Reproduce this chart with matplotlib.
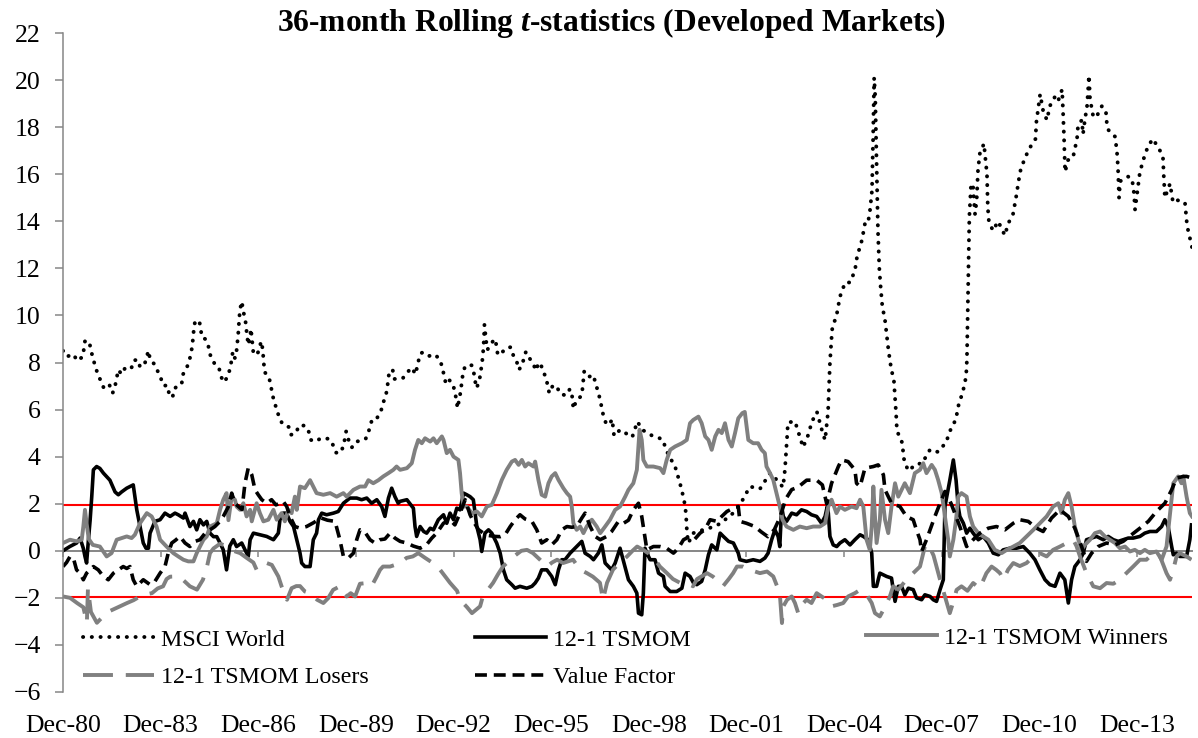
"""36-month rolling t-statistics, developed markets."""
import matplotlib
matplotlib.use('Agg')
import matplotlib.pyplot as plt
import numpy as np

# months since Dec-80, t-statistic
msci_world = [
    (0, 8.5), (1.4, 8.25), (3.8, 8.35), (5.3, 8.07), (7.3, 8.25), (8.1, 8.9), (9.7, 8.9), (10.2, 8.56),
    (11.8, 7.87), (12.7, 7.55), (13.9, 7.22), (15.1, 6.9), (17.1, 7.05), (18.3, 6.7), (19.2, 7.0),
    (20.4, 7.69), (21.6, 7.5), (23.2, 7.83), (25.3, 7.79), (26.2, 8.1), (27.8, 8.1), (28.4, 7.8),
    (30.2, 7.97), (31.5, 8.5), (32.1, 8.14), (33.6, 7.94), (34.8, 7.66), (36.0, 7.36), (37.0, 7.02),
    (38.5, 7.02), (39.1, 6.68), (40.4, 6.51), (40.9, 6.84), (42.5, 7.08), (43.8, 7.12), (44.1, 7.47),
    (45.4, 7.71), (46.5, 8.04), (47.2, 8.39), (47.7, 8.73), (48.1, 9.25), (48.7, 9.77), (50.3, 9.74),
    (50.8, 9.41), (51.2, 9.07), (52.4, 9.0), (53.6, 8.72), (53.9, 8.39), (55.1, 8.18), (56.0, 7.9),
    (57.6, 7.74), (58.1, 7.43), (59.4, 7.16), (61.0, 7.46), (61.6, 7.78), (62.2, 8.1), (62.6, 8.46),
    (63.4, 8.18), (64.0, 8.5), (64.6, 9.2), (65.0, 9.9), (65.3, 10.26), (65.9, 10.59), (66.8, 10.0),
    (67.4, 9.67), (67.7, 9.31), (68.3, 8.75), (69.0, 9.1), (69.3, 9.43), (69.9, 8.75), (70.2, 8.4),
    (71.4, 8.32), (72.4, 8.54), (73.0, 8.9), (73.6, 8.6), (74.3, 7.6), (76.0, 7.36), (76.6, 7.02),
    (77.2, 6.68), (77.8, 6.34), (78.8, 6.03), (79.6, 5.7), (80.9, 5.39), (83.4, 5.25), (84.1, 4.93),
    (85.9, 5.0), (87.0, 5.32), (89.2, 5.32), (90.7, 5.04), (91.4, 4.71), (93.2, 4.64), (95.0, 4.78),
    (98.1, 4.76), (99.7, 4.47), (100.7, 4.17), (102.1, 4.15), (103.4, 4.43), (104.4, 5.07), (105.2, 4.74),
    (106.5, 4.39), (108.0, 4.64), (109.8, 4.67), (111.6, 4.76), (112.6, 5.0), (113.2, 5.32), (114.2, 5.63),
    (115.9, 5.66), (117.3, 5.96), (118.1, 6.3), (119.1, 6.62), (119.6, 6.98), (120.0, 7.3), (120.3, 7.66),
    (121.6, 7.66), (122.2, 7.3), (125.3, 7.33), (126.7, 7.55), (128.6, 7.78), (130.0, 7.5), (131.0, 8.04),
    (131.9, 8.39), (132.9, 8.44), (135.1, 8.28), (137.2, 8.34), (139.0, 8.11), (139.9, 7.78), (140.5, 7.44),
    (141.2, 7.09), (142.4, 7.26), (143.9, 7.05), (144.5, 6.7), (145.2, 6.38), (145.4, 6.06), (146.1, 6.41),
    (146.6, 6.76), (147.0, 7.12), (147.4, 7.47), (148.2, 7.83), (149.4, 7.9), (150.7, 7.88), (151.5, 7.55),
    (152.0, 7.19), (152.5, 6.91), (153.5, 7.22), (154.0, 7.57), (154.4, 7.9), (154.8, 8.25), (155.0, 8.61),
    (155.2, 8.96), (155.4, 9.6), (156.0, 8.93), (156.5, 8.54), (157.7, 8.79), (159.3, 9.0), (159.9, 8.68),
    (160.3, 8.32), (161.8, 8.42), (163.6, 8.63), (165.1, 8.65), (166.0, 8.32), (167.3, 8.04), (168.1, 7.69),
    (169.5, 7.93), (170.0, 8.28), (170.7, 8.45), (172.2, 8.15), (173.4, 7.94), (174.4, 7.66), (175.3, 7.97),
    (176.1, 7.97), (176.9, 7.64), (178.1, 7.37), (178.7, 7.02), (179.3, 6.7), (180.6, 7.02), (182.0, 7.0),
    (183.3, 6.67), (185.4, 6.6), (186.9, 6.87), (187.6, 6.7), (187.9, 6.37), (188.2, 6.03), (189.2, 6.37),
    (191.3, 6.6), (191.6, 6.95), (191.9, 7.29), (192.2, 7.64), (193.1, 7.52), (194.1, 7.4), (195.5, 7.47),
    (196.4, 7.12), (197.2, 6.79), (198.0, 6.45), (199.2, 5.77), (200.2, 5.42), (201.4, 5.35), (202.5, 5.59),
    (203.2, 4.88), (205.4, 5.14), (209.9, 4.83), (211.8, 5.49), (213.6, 5.14), (217.1, 4.9), (221.0, 4.74),
    (223.2, 4.08), (225.7, 3.58), (227.5, 2.87), (229.0, 2.17), (229.7, 1.6), (230.1, 0.75), (230.6, 0.33),
    (232.4, 0.75), (234.9, 0.85), (239.3, 1.0), (242.3, 1.15), (247.1, 1.6), (249.6, 1.95), (253.3, 2.73),
    (257.0, 2.63), (260.7, 3.3), (262.5, 3.1), (265.5, 2.7), (266.2, 3.44), (267.0, 4.84), (267.3, 5.45),
    (269.9, 5.5), (272.9, 4.4), (274.7, 4.9), (276.2, 5.5), (278.0, 5.9), (279.9, 5.1), (281.0, 4.7),
    (282.1, 5.9), (282.8, 8.0), (283.6, 9.4), (285.4, 10.1), (286.5, 10.8), (288.4, 11.4), (290.2, 11.4),
    (292.0, 11.9), (292.8, 12.5), (294.6, 13.2), (295.7, 13.9), (296.8, 13.9), (297.6, 14.5), (298.3, 15.3),
    (298.7, 17.5), (299.1, 20.1), (299.5, 19.3), (300.0, 16.5), (300.5, 13.6), (301.0, 12.0), (301.5, 11.2),
    (302.1, 10.4), (303.1, 9.8), (303.7, 9.2), (304.4, 8.5), (305.3, 7.8), (306.4, 7.2), (306.8, 6.5),
    (307.2, 5.8), (307.5, 5.1), (309.4, 4.6), (310.1, 3.9), (311.6, 3.4), (314.9, 3.7), (316.7, 3.7),
    (319.7, 4.3), (322.6, 4.2), (325.6, 4.6), (327.1, 5.1), (329.3, 5.6), (330.0, 6.1), (331.9, 6.8),
    (333.0, 7.4), (333.3, 8.1), (333.6, 10.1), (333.9, 12.2), (334.2, 14.2), (334.8, 15.5), (335.5, 15.6),
    (335.9, 14.9), (336.3, 14.3), (336.9, 14.9), (337.4, 16.2), (338.1, 16.9), (339.6, 17.3), (340.0, 16.8),
    (340.7, 16.0), (341.0, 14.6), (341.4, 14.0), (342.9, 13.6), (344.8, 14.0), (347.3, 13.4), (348.5, 13.9),
    (350.3, 14.3), (351.4, 15.0), (352.9, 16.1), (354.7, 16.7), (356.9, 17.2), (358.6, 17.5), (358.9, 18.2),
    (359.5, 18.7), (360.3, 19.4), (361.4, 18.7), (362.8, 18.3), (363.9, 18.9), (365.8, 19.3), (366.9, 19.1),
    (368.4, 19.6), (368.7, 18.8), (369.1, 17.6), (369.5, 16.1), (370.6, 16.6), (372.4, 16.7), (373.9, 17.5),
    (374.3, 18.1), (375.7, 18.3), (376.1, 17.7), (376.8, 18.3), (377.6, 18.9), (378.0, 19.6), (378.3, 20.2),
    (378.7, 19.2), (379.8, 18.5), (380.9, 18.4), (383.1, 18.9), (384.6, 18.6), (385.0, 18.0), (385.3, 17.9),
    (387.9, 17.6), (388.6, 17.0), (389.0, 16.3), (389.4, 15.0), (389.8, 15.7), (392.7, 15.9), (394.2, 15.8),
    (394.9, 15.2), (395.3, 14.5), (396.4, 15.5), (397.1, 16.1), (398.6, 16.7), (400.1, 17.2), (401.9, 17.5),
    (404.5, 17.0), (405.6, 16.7), (405.9, 15.9), (406.3, 15.0), (408.2, 15.6), (409.3, 14.8), (410.8, 14.9),
    (413.7, 14.8), (414.5, 13.8), (416.3, 12.9),
]

tsmom = [
    (0, 0.0), (2.5, 0.18), (5, 0.33), (6.3, 0.54), (7.5, 0.1), (8.1, -0.24), (8.7, -0.52), (9.4, 0.5),
    (10, 1.3), (10.6, 2.3), (11.2, 3.44), (12.4, 3.58), (13.6, 3.5), (14.9, 3.3), (17.3, 3.0), (19.2, 2.5),
    (20.4, 2.38), (21.6, 2.5), (23.5, 2.66), (25.9, 2.8), (26.5, 2.3), (27.2, 1.74), (28.4, 1.03),
    (29.6, 0.33), (30.6, 0.11), (31.5, 0.11), (32.1, 0.75), (33.9, 1.25), (35.8, 1.32), (37.6, 1.6),
    (39.5, 1.46), (41.3, 1.6), (42.5, 1.53), (44.4, 1.39), (45, 1.6), (46.8, 1.03), (48.1, 1.25),
    (49.3, 0.89), (50.5, 1.32), (51.8, 1.1), (53, 1.25), (54.2, 0.75), (55.5, 0.6), (56.7, 0.6),
    (57.9, 0.33), (59.1, 0.04), (60.3, -0.81), (61.5, 0.2), (62.8, 0.47), (64, 0.18), (65.9, 0.33),
    (67.7, -0.1), (68.3, -0.24), (69, 0.47), (70.2, 0.75), (72.6, 0.68), (75.1, 0.61), (77.6, 0.47),
    (79.4, 0.75), (80, 1.32), (81.2, 1.6), (82.4, 1.6), (83.7, 1.25), (85, 1.03), (86.2, 0.47),
    (87.4, -0.1), (88, -0.52), (89.2, -0.67), (91.1, -0.67), (91.7, -0.1), (92.3, 0.47), (93.5, 0.75),
    (94.2, 1.32), (95.4, 1.6), (97.2, 1.53), (99.7, 1.6), (101.5, 1.67), (103.4, 2.02), (105.8, 2.24),
    (108.3, 2.24), (110.1, 2.17), (112, 2.24), (113.8, 2.02), (115.7, 2.17), (117.5, 1.88), (118.7, 1.46),
    (120, 2.24), (121.2, 2.66), (122.4, 2.3), (123.6, 2.02), (124.3, 2.1), (126.8, 2.17), (129.2, 1.81),
    (129.8, 1.03), (130.4, 0.61), (131.7, 1.03), (133, 0.82), (134.1, 0.75), (135.4, 0.96), (136.6, 0.89),
    (138.4, 1.32), (140.3, 1.53), (141.5, 1.17), (142.7, 1.6), (144, 1.32), (145.2, 1.81), (146.4, 1.74),
    (147.7, 2.45), (148.9, 2.38), (150.1, 2.3), (151.3, 2.17), (152.6, 1.03), (153.8, 0.47), (154.4, -0.03),
    (155.6, 0.75), (156.9, 0.89), (158.1, 0.75), (159.9, 0.33), (161.2, -0.1), (162.4, -0.81),
    (163.6, -1.23), (165.5, -1.44), (166.7, -1.59), (168.5, -1.51), (171, -1.59), (172.9, -1.51),
    (174.1, -1.37), (175.3, -1.16), (176.5, -0.81), (178.4, -0.81), (180.2, -1.09), (181.5, -1.44),
    (182.7, -0.81), (183.9, -0.38), (185.1, -0.38), (187, -0.1), (188.8, 0.11), (191.3, 0.4),
    (192.5, -0.1), (194.4, -0.24), (195.6, -0.38), (197.4, -0.1), (198.7, 0.25), (199.9, -0.52),
    (202.3, -0.81), (203.6, -0.52), (205.4, 0.11), (206.7, -0.45), (208.5, -1.23), (210.3, -1.51),
    (211.6, -1.8), (212.2, -2.65), (213.4, -2.72), (214, -1.8), (214.6, 0.11), (215.3, -0.1),
    (216.5, -0.38), (218.3, -0.38), (219.6, -0.95), (221.4, -1.09), (222, -1.51), (223.9, -1.73),
    (226.3, -1.73), (228.2, -1.59), (229.4, -0.95), (231.2, -1.09), (232.5, -1.37), (233.7, -1.44),
    (235.5, -1.3), (236.8, -0.81), (238, -0.17), (239.2, 0.25), (241.1, 0.04), (242.3, 0.75),
    (243.5, 0.61), (245.4, 0.4), (247.2, 0.33), (249, -0.1), (249.6, -0.38), (252, -0.45),
    (254.5, -0.38), (257, -0.45), (258.8, -0.31), (260, -0.1), (261.3, 0.47), (262.5, 0.89),
    (263.7, 0.61), (264.3, 0.18), (265, 1.88), (265.6, 1.46), (266.8, 1.25), (268.7, 1.6), (270.5, 1.53),
    (272.3, 1.74), (274.2, 1.67), (276, 1.53), (277.9, 1.46), (279.7, 1.17), (281, 1.46), (281.8, 1.88),
    (282.2, 1.6), (282.8, 0.61), (284, 0.25), (285.3, 0.18), (286.5, 0.33), (288.3, 0.47), (290.2, 0.25),
    (292, 0.47), (293.9, 0.68), (295.1, 0.61), (296.9, 0.47), (298.2, -0.1), (298.8, -1.51), (300, -1.51),
    (301.2, -0.95), (303.7, -1.09), (305.5, -1.16), (306.8, -2.15), (308, -1.51), (309.2, -1.51),
    (310.4, -1.87), (311.7, -1.59), (313.5, -1.65), (314.7, -2.0), (316.6, -2.08), (317.8, -1.87),
    (319.7, -1.94), (320.9, -2.08), (322.1, -2.15), (323.4, -1.65), (324.6, -1.23), (325.2, 1.88),
    (327, 3.0), (328.3, 3.86), (329.3, 3.0), (330.1, 1.88), (330.7, 1.46), (332, 1.17), (333.2, 0.75),
    (334.4, 0.96), (335.6, 0.75), (337.5, 0.47), (339.3, 0.61), (341.2, 0.33), (343, -0.1), (344.9, -0.17),
    (346.7, 0.04), (349.2, 0.11), (351.6, 0.11), (354.1, 0.18), (356.5, -0.1), (358.4, -0.38),
    (360.2, -0.81), (362.1, -1.23), (363.9, -1.44), (365.8, -1.51), (367.6, -0.95), (369.4, -1.23),
    (370.7, -2.22), (371.9, -1.23), (373.1, -0.67), (375, -0.38), (376.2, -0.1), (377.4, 0.47),
    (379.3, 0.54), (381.1, 0.61), (383.6, 0.47), (385.4, 0.61), (387.3, 0.47), (389.1, 0.4), (391, 0.47),
    (392.8, 0.54), (394.6, 0.54), (397.1, 0.61), (398.9, 0.75), (400.8, 0.82), (403.2, 0.82),
    (405.1, 1.03), (406.3, 1.32), (407.5, 1.03), (408.8, 0.18), (409.4, -0.17), (410.6, -0.1),
    (411.8, -0.24), (414.3, -0.24), (415.5, 0.47), (416.1, 1.1),
]

tsmom_winners = [
    (0, 0.33), (2.6, 0.47), (5, 0.4), (6.9, 0.47), (7.5, 1.03), (8.1, 1.74), (8.7, 1.17), (9.5, 0.5),
    (11, 0.25), (13.6, 0.18), (16.1, -0.24), (17.9, -0.1), (19.8, 0.47), (21.6, 0.54), (23.5, 0.61),
    (25.3, 0.54), (26.5, 0.68), (28.4, 1.17), (30.9, 1.6), (32.7, 1.46), (34.5, 1.03), (35.8, 0.47),
    (38.2, 0.18), (40.7, -0.1), (42.5, -0.24), (44.4, -0.38), (46.2, -0.45), (48.1, -0.45), (49.3, -0.1),
    (50.5, 0.18), (51.8, 0.47), (53, 0.61), (54.2, 1.03), (56.7, 1.17), (57.9, 1.74), (59.1, 2.17),
    (60.3, 2.45), (61, 1.3), (62.2, 2.3), (63.4, 2.17), (64, 1.88), (65.3, 1.74), (66.5, 2.02),
    (67.7, 1.46), (69, 1.74), (69.6, 1.25), (71.4, 2.02), (72.6, 1.6), (73.9, 1.25), (75.7, 1.32),
    (77.6, 1.74), (78.8, 1.32), (80.6, 1.6), (81.8, 1.25), (83.1, 1.74), (84.3, 1.6), (85.5, 2.3),
    (86.2, 1.74), (87.4, 2.73), (89.2, 2.66), (91.1, 3.0), (92.3, 2.73), (93.5, 2.45), (96, 2.38),
    (98.5, 2.45), (100.9, 2.3), (103.4, 2.45), (104.6, 2.3), (107.1, 2.59), (109.5, 2.73), (111.4, 2.73),
    (112.6, 3.0), (114.4, 2.87), (116.3, 3.0), (118.1, 3.16), (120, 3.3), (121.8, 3.44), (123, 3.58),
    (124.3, 3.44), (126.8, 3.51), (128.6, 3.72), (129.8, 4.29), (131, 4.71), (132.3, 4.57), (133.5, 4.78),
    (135.4, 4.64), (136.6, 4.78), (137.8, 4.57), (139.7, 4.86), (140.3, 4.71), (141.5, 4.15), (142.7, 4.29),
    (144, 4.0), (145.8, 3.86), (146.4, 3.3), (147, 2.45), (147.7, 1.88), (148.9, 1.88), (150.7, 1.6),
    (152.6, 1.67), (154.4, 1.46), (156.3, 1.88), (158.1, 1.95), (160, 2.45), (161.8, 3.01), (163.6, 3.44),
    (165.5, 3.79), (166.7, 3.86), (168, 3.65), (169.2, 3.86), (170.4, 3.58), (171.6, 3.72), (173.5, 3.58),
    (174.1, 3.79), (175.3, 3.01), (176.5, 2.38), (177.8, 2.3), (179, 2.87), (180.2, 3.16), (181.5, 3.3),
    (182.7, 3.01), (184.5, 2.66), (185.8, 2.45), (187, 2.3), (187.6, 1.88), (188.2, 1.17), (189.4, 0.89),
    (190.7, 1.03), (191.9, 0.75), (193.1, 1.03), (195, 1.32), (196.8, 1.03), (198.1, 0.75), (199.9, 1.03),
    (201.7, 1.32), (203.6, 1.74), (205.4, 1.88), (207.3, 2.3), (208.5, 2.59), (210.3, 2.87), (211.6, 3.44),
    (212.6, 5.14), (213.4, 4.71), (214, 3.86), (215.3, 3.58), (217.7, 3.58), (220.2, 3.51), (221.4, 3.3),
    (222.6, 3.86), (223.9, 4.29), (225.7, 4.43), (228.2, 4.57), (230, 4.71), (231.2, 5.42), (232.4, 5.56),
    (234.3, 5.7), (235.5, 5.42), (236.8, 4.86), (238, 4.71), (239.2, 4.29), (240.5, 4.86), (241.7, 5.14),
    (242.9, 5.0), (244.1, 5.42), (245.4, 4.71), (246.6, 4.43), (247.8, 5.0), (249, 5.63), (250.5, 5.85),
    (251.4, 5.9), (252.7, 4.71), (254.5, 4.57), (256.3, 4.57), (257.6, 4.29), (258.8, 4.15), (259.4, 3.58),
    (260.7, 3.3), (261.9, 3.01), (263.1, 2.45), (264.3, 1.88), (265.3, 1.32), (266.8, 1.03), (269.3, 0.89),
    (271.7, 1.03), (274.2, 0.96), (276.6, 1.03), (279.1, 1.03), (281, 1.17), (282.2, 1.88), (283.4, 2.17),
    (285.2, 1.6), (286.5, 1.88), (288.3, 1.74), (290.8, 1.88), (292.6, 1.81), (293.9, 2.17), (295.1, 1.88),
    (296.3, 0.47), (297.5, 0.04), (298.2, 1.03), (298.8, 2.73), (299.4, 1.46), (300, 0.33), (301.2, 1.32),
    (301.8, 2.59), (303.1, 1.32), (304.3, 0.75), (305.5, 1.88), (306.8, 2.87), (308, 2.3), (309.2, 2.59),
    (310.4, 2.87), (312.3, 2.45), (314.1, 3.3), (316, 3.44), (317.2, 3.72), (318.4, 3.3), (320.3, 3.65),
    (321.5, 3.44), (322.7, 3.01), (324, 2.45), (325.2, 1.46), (326.4, 0.47), (327, -0.24), (328.3, 0.47),
    (329.3, 1.32), (330.1, 2.3), (331.3, 2.45), (333.2, 2.3), (334.4, 1.46), (335.6, 1.03), (337.5, 0.75),
    (339.3, 0.61), (341.2, 0.47), (343.6, 0.04), (346.1, -0.1), (348, 0.04), (350.4, 0.18), (352.8, 0.33),
    (355.3, 0.61), (357.8, 0.89), (360.2, 1.17), (362.7, 1.46), (365.1, 1.88), (367, 2.02), (368.2, 1.6),
    (369.4, 2.17), (370.7, 2.45), (371.9, 1.88), (373.1, 1.03), (374.4, 0.47), (375.6, 0.04), (376.8, 0.25),
    (378.7, 0.47), (380.5, 0.75), (382.4, 0.82), (384.2, 0.61), (386, 0.47), (387.9, 0.33), (389.7, 0.11),
    (391.6, 0.18), (393.4, -0.03), (395.2, 0.04), (397.1, -0.1), (398.9, 0.04), (400.8, -0.1),
    (403.2, -0.03), (405.1, -0.38), (406.9, 0.18), (408.2, 1.6), (409.4, 2.87), (411.2, 3.16),
    (412.4, 2.87), (413.1, 3.16), (414.3, 2.3), (415.5, 1.6), (416.3, 1.46),
]

tsmom_losers = [
    (0, -1.94), (2.6, -2.0), (5.2, -2.22), (7.5, -2.4), (8.8, -3.06), (9.2, -1.6), (10.3, -2.6),
    (12.5, -3.06), (14.7, -2.8), (16.5, -2.6), (18.4, -2.5), (21, -2.36), (23.6, -2.22), (26, -2.1),
    (28.4, -1.94), (30.5, -1.85), (32.8, -1.8), (34.9, -1.6), (36.9, -1.51), (38.2, -1.2), (39.5, -1.1),
    (41.9, -1.09), (44.2, -1.23), (46.8, -1.51), (49.4, -1.65), (51.6, -1.23), (53.1, -0.67), (54.2, -0.1),
    (55.5, 0.1), (57.9, 0.3), (60.3, 0.2), (62.8, 0.0), (65.3, -0.1), (67.7, -0.3), (70.2, -0.5),
    (71.4, -0.81), (73.3, -0.7), (75.1, -0.52), (77, -0.6), (79.4, -1.09), (80.6, -1.51), (82.6, -2.08),
    (84.3, -1.59), (86, -1.5), (87.4, -1.5), (89.2, -1.73), (91.1, -1.8), (93.7, -2.08), (96, -2.22),
    (97.8, -2.01), (99.6, -1.66), (102.1, -1.51), (103.4, -1.8), (104.6, -1.94), (106.1, -1.8),
    (107.7, -1.94), (109.5, -1.4), (112, -1.37), (113.8, -1.5), (115.7, -1.09), (116.9, -0.81),
    (118, -0.67), (120.6, -0.67), (122.4, -0.6), (124.3, -0.52), (126.7, -0.3), (129, -0.24), (131, -0.1),
    (133.5, -0.3), (136.4, -0.52), (139, -0.8), (141, -1.1), (142.7, -1.36), (145.3, -1.7), (146.4, -2.08),
    (149, -2.4), (150.8, -2.65), (153.8, -2.36), (154.9, -1.9), (156.7, -1.65), (158.6, -1.36),
    (160.4, -1.0), (162.2, -0.67), (164.8, -0.4), (166.7, -0.2), (169, 0.0), (171.1, 0.04), (173.3, -0.1),
    (175.9, -0.38), (178.5, -0.67), (180.3, -0.5), (182.2, -0.38), (184.4, -0.52), (186.3, -0.45),
    (188.1, -0.38), (190.6, -0.8), (193.2, -0.95), (195.4, -1.1), (198, -1.36), (199.1, -2.08),
    (200.6, -1.36), (202.8, -0.8), (205.4, -0.5), (208, -0.24), (210, 0.0), (211.7, 0.18), (213.9, 0.04),
    (217.6, -0.24), (220.1, -0.67), (222.7, -0.95), (224.9, -1.2), (227.5, -1.36), (230.1, -1.36),
    (232.3, -1.51), (233.8, -1.2), (237.5, -0.95), (239.7, -1.1), (242.3, -1.36), (243.4, -1.5),
    (245.5, -1.2), (247.1, -0.95), (248.5, -0.67), (250.7, -0.67), (253.3, -0.81), (257, -0.95),
    (259.6, -0.88), (261.9, -1.09), (264.3, -1.8), (265.1, -3.07), (265.6, -2.36), (267, -2.08),
    (268.7, -1.94), (269.9, -2.22), (271.1, -2.65), (272.3, -2.3), (274.2, -2.08), (276, -2.22),
    (277.9, -1.8), (279.7, -1.94), (281.6, -2.08), (283.4, -2.36), (285.5, -2.3), (287.7, -2.22),
    (289.5, -1.94), (292, -1.8), (293.9, -1.66), (296, -1.8), (298.2, -2.22), (299.4, -2.65),
    (301.2, -2.79), (303, -2.4), (304.9, -1.94), (306.1, -1.51), (308, -1.65), (311, -1.23),
    (313.5, -0.95), (316, -0.67), (317.8, 0.18), (319, 0.3), (321, -0.2), (323.4, -1.23), (325.2, -1.94),
    (327, -2.65), (328.2, -2.2), (329.5, -1.66), (331.3, -1.51), (333.5, -1.7), (335.6, -1.37),
    (338, -1.6), (340.5, -0.95), (342.4, -0.67), (344, -0.8), (345.5, -0.95), (346.7, -1.23),
    (348.5, -0.8), (350.4, -0.52), (352.8, -0.65), (355.3, -0.52), (357.8, -0.24), (360.2, -0.1),
    (362.7, -0.24), (365.1, 0.04), (367.6, 0.18), (370.1, 0.33), (372.5, 0.47), (373.7, 0.2),
    (375, -0.24), (377.4, -0.95), (379.9, -1.51), (382.4, -1.59), (384.8, -1.37), (387.3, -1.4),
    (389.7, -1.23), (392.1, -0.95), (394.6, -0.67), (397.1, -0.38), (399.5, -0.38), (402, -0.1),
    (404.5, -0.24), (406.9, -0.95), (408.2, -1.23), (409.4, -0.8), (410.6, -0.24), (411.8, -0.1),
    (414.3, -0.24), (416.1, -0.38),
]

value_factor = [
    (0, -0.67), (1.3, -0.5), (2.6, -0.24), (3.8, -0.3), (5, -0.81), (6.3, -0.95), (7.5, -1.23),
    (8.7, -0.95), (11.2, -0.67), (13, -0.81), (14.9, -1.09), (16.7, -1.23), (18.6, -0.95), (20.4, -0.81),
    (22.2, -0.67), (23.5, -0.75), (24.7, -0.67), (25.9, -1.23), (27.2, -1.51), (29.6, -1.23),
    (32.1, -1.44), (33.9, -1.3), (35.8, -0.95), (37.6, -0.67), (38.8, -0.1), (40.1, 0.33), (41.5, 0.45),
    (43.1, 0.61), (45, 0.33), (46.8, 0.18), (48.7, 0.4), (50.5, 0.47), (52.4, 0.75), (54.2, 0.89),
    (56, 1.03), (57.9, 1.25), (59.1, 1.46), (61, 1.88), (62.2, 2.45), (63.4, 2.02), (64.7, 1.88),
    (66, 1.75), (67.1, 2.87), (68.3, 3.51), (69.6, 3.23), (70.8, 2.59), (72, 2.38), (73.3, 2.17),
    (75.1, 2.02), (76.9, 2.17), (78.5, 1.95), (80, 2.02), (81.2, 2.1), (82.5, 1.88), (83.7, 1.46),
    (85.5, 1.03), (87.4, 0.96), (89.8, 1.03), (92.5, 1.2), (95, 1.4), (97.5, 1.3), (100.3, 1.25),
    (102.1, 0.47), (103.4, -0.24), (105.2, -0.31), (107.1, -0.1), (108.3, 0.47), (109.5, 0.89),
    (111.3, 0.8), (113.2, 0.47), (115, 0.33), (116.9, 0.47), (118.7, 0.5), (120.6, 0.75), (122.4, 0.54),
    (124.3, 0.4), (126.8, 0.33), (129.2, 0.2), (131.7, 0.11), (134, 0.25), (136, 0.54), (137.8, 0.75),
    (140.3, 1.17), (142.7, 1.32), (144.5, 1.1), (146.4, 1.6), (148.3, 2.17), (150.1, 1.53), (151.3, 1.25),
    (153.2, 0.9), (155, 0.75), (156.9, 0.65), (159.3, 0.61), (161.2, 0.6), (163, 0.68), (164.9, 1.03),
    (166.7, 1.32), (168.5, 1.53), (170.4, 1.35), (172.9, 1.25), (174.7, 0.89), (176.5, 0.33),
    (178.4, 0.47), (180.2, 0.25), (182.1, 0.47), (183.9, 0.89), (185.8, 1.03), (187.6, 1.0), (189.4, 1.03),
    (191.3, 1.39), (192.5, 1.6), (194.4, 1.03), (196.2, 0.61), (198.1, 0.47), (200.3, 0.6), (202.3, 0.82),
    (204.8, 1.25), (206.7, 1.17), (208.5, 1.3), (210.3, 1.74), (212.2, 2.02), (213.4, 1.46), (215.3, 0.04),
    (217.7, 0.18), (220.2, 0.18), (222.6, 0.11), (225.1, -0.1), (226.9, 0.11), (228.8, 0.47),
    (231.2, 0.61), (233, 0.5), (234.9, 0.75), (236.7, 0.9), (238.6, 1.32), (241.1, 1.25), (242.9, 1.46),
    (244.8, 1.67), (247.2, 1.81), (249, 1.88), (249.6, 1.25), (252, 1.17), (255.1, 1.03), (257.5, 0.8),
    (259.9, 0.6), (262.3, 0.9), (264.3, 1.4), (266.5, 2.2), (268.7, 2.6), (271, 2.7), (274.2, 3.0),
    (277.9, 3.0), (280, 2.8), (281.6, 2.0), (283.4, 2.87), (285.9, 3.58), (287.1, 3.86), (289.5, 3.79),
    (292, 3.44), (292.6, 2.87), (293.9, 2.73), (295.7, 3.51), (298.8, 3.58), (300.6, 3.65), (302.5, 3.23),
    (303.1, 2.59), (305.5, 2.02), (308.6, 1.88), (311, 1.46), (313.5, 1.32), (314.7, 0.89), (316, 0.47),
    (316.6, -0.03), (318.4, 0.47), (319.7, 0.89), (321.5, 1.46), (323.4, 2.02), (325.2, 2.52),
    (327.5, 2.0), (330.7, 1.03), (333.2, 0.18), (335.6, 0.47), (338.1, 0.75), (341.2, 0.96), (344.2, 1.03),
    (347.3, 0.89), (350.4, 1.17), (352.8, 1.32), (355.9, 1.25), (359, 0.96), (361.4, 0.82), (364.5, 1.39),
    (367.6, 1.74), (370.7, 1.46), (373.1, 0.96), (375.6, 0.18), (377.4, -0.45), (379.3, -0.1),
    (381.7, 0.18), (384.8, 0.33), (387.9, 0.25), (390.9, 0.4), (394, 0.68), (397.1, 0.96), (400.2, 1.25),
    (403.2, 1.67), (406.3, 2.02), (408.8, 2.59), (410.6, 3.09), (413.1, 3.16), (414.3, 3.16), (416, 3.1),
]

tick_months = list(range(0, 397, 36))
tick_labels = ['Dec-80', 'Dec-83', 'Dec-86', 'Dec-89', 'Dec-92', 'Dec-95',
               'Dec-98', 'Dec-01', 'Dec-04', 'Dec-07', 'Dec-10', 'Dec-13']
crit = 1.96

plt.rcParams['font.family'] = 'Liberation Serif'
plt.rcParams['mathtext.fontset'] = 'custom'
plt.rcParams['mathtext.it'] = 'Liberation Serif:italic:bold'
plt.rcParams['mathtext.rm'] = 'Liberation Serif:bold'

GRAY = '#808080'
AXIS = '#868686'

fig = plt.figure(figsize=(11.98, 7.38), dpi=100)
W, H = 1198, 738
ax = fig.add_axes([63 / W, 1 - 692 / H, (1192 - 63) / W, (692 - 33) / H])

# critical value lines
ax.axhline(crit, color='#ff0000', lw=1.5, zorder=1.5)
ax.axhline(-crit, color='#ff0000', lw=1.5, zorder=1.5)


def draw(series, **kw):
    m, t = np.array(series).T
    return ax.plot(m, t, **kw)[0]


h_msci = draw(msci_world, color='black', lw=2.8, ls=(0, (0.05, 2.2)),
              dash_capstyle='round', label='MSCI World', zorder=2.0)
h_ts = draw(tsmom, color='black', lw=2.6, label='12-1 TSMOM', zorder=2.1)
h_win = draw(tsmom_winners, color=GRAY, lw=2.8, label='12-1 TSMOM Winners', zorder=2.2)
h_los = draw(tsmom_losers, color=GRAY, lw=2.8, ls=(0, (7.7, 3.3)),
             label='12-1 TSMOM Losers', zorder=2.3)
h_val = draw(value_factor, color='black', lw=2.6, ls=(0, (3.3, 1.9)),
             label='Value Factor', zorder=2.4)

ax.set_xlim(0, 416.3)
ax.set_ylim(-6, 22)
ax.set_yticks(range(-6, 23, 2))
ax.tick_params(axis='y', direction='out', length=6, width=1.1, color=AXIS,
               pad=10, labelsize=18.5)
for side in ['top', 'right', 'bottom']:
    ax.spines[side].set_visible(False)
ax.spines['left'].set_color(AXIS)
ax.spines['left'].set_linewidth(1.1)

# category labels along the bottom
ax.set_xticks(tick_months, tick_labels)
ax.tick_params(axis='x', length=0, pad=16.5, labelsize=18.5)

# horizontal axis crossing at zero, with its tick marks
zero_axis = ax.secondary_xaxis(6 / 28)
zero_axis.set_xticks(tick_months)
zero_axis.tick_params(axis='x', direction='out', length=4, width=1.1, color=AXIS,
                      labelbottom=False)
zero_axis.spines['bottom'].set_color(AXIS)
zero_axis.spines['bottom'].set_linewidth(1.4)

leg_kw = dict(frameon=False, fontsize=17.3, handlelength=2.95, handletextpad=0.3,
              labelspacing=0.65, borderpad=0, borderaxespad=0, loc='center left')
leg1 = ax.legend([h_msci, h_los], ['MSCI World', '12-1 TSMOM Losers'],
                 bbox_to_anchor=(0.0177, 0.051), **leg_kw)
ax.add_artist(leg1)
leg2 = ax.legend([h_ts, h_val], ['12-1 TSMOM', 'Value Factor'],
                 bbox_to_anchor=(0.365, 0.051), **leg_kw)
ax.add_artist(leg2)
ax.legend([h_win], ['12-1 TSMOM Winners'], bbox_to_anchor=(0.711, 0.082), **leg_kw)

fig.text(612 / W, 1 - 23 / H, r'36-month Rolling $t$-statistics (Developed Markets)',
         ha='center', va='center', fontsize=22.7, fontweight='bold')

fig.savefig('out.png', dpi=100)
